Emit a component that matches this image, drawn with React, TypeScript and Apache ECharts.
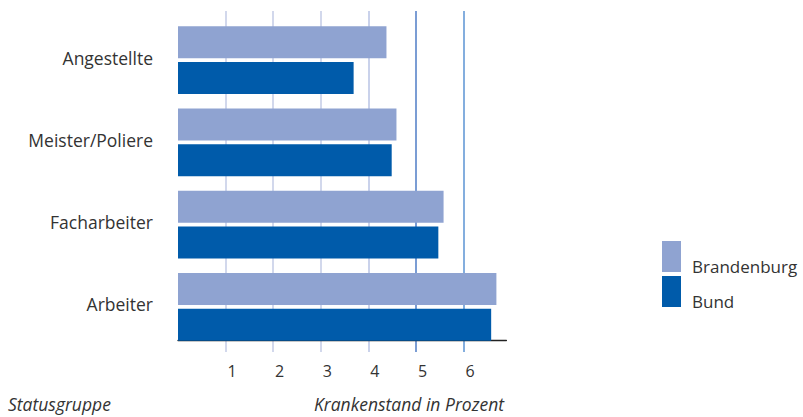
import React, { useEffect, useRef } from "react";
import * as echarts from "echarts";

const categories = ["Angestellte", "Meister/Poliere", "Facharbeiter", "Arbeiter"];
const brandenburg = [4.38, 4.59, 5.58, 6.69];
const bund = [3.69, 4.49, 5.47, 6.58];
const seriesNames = ["Brandenburg", "Bund"];
const xTicks = [0, 1, 2, 3, 4, 5, 6];
const xAxisTitle = "Krankenstand in Prozent";
const yAxisTitle = "Statusgruppe";

const FONT = "'Open Sans', sans-serif";
const TEXT = "#333333";
const C_BRB = "#8fa3d1";
const C_BUND = "#005baa";

export default function App() {
  const ref = useRef<HTMLDivElement>(null);
  useEffect(() => {
    document.body.style.margin = "0";
    const chart = echarts.init(ref.current!, null, { renderer: "svg" });
    const left = 178;
    const xMax = 6.9;
    const right = 803 - 506.4;
    chart.setOption({
      animation: false,
      textStyle: { fontFamily: FONT, color: TEXT },
      legend: {
        orient: "vertical",
        left: 657,
        top: 231.5,
        itemWidth: 19,
        itemHeight: 31,
        itemGap: -5,
        icon: "rect",
        formatter: (name: string) => "\n" + name,
        textStyle: { fontFamily: FONT, fontSize: 17, color: TEXT, lineHeight: 20, padding: [0, 0, 0, 6] },
        data: seriesNames,
      },
      grid: [
        { left, right, top: 19, height: 329 },
        { left, right, top: 11, height: 341 },
      ],
      xAxis: [
        { gridIndex: 0, type: "value", min: 0, max: xMax, show: false },
        {
          gridIndex: 1,
          type: "value",
          min: 0,
          max: xMax,
          interval: 1,
          offset: -12,
          axisLine: { show: true, lineStyle: { color: "#222222", width: 1.3 } },
          axisTick: { show: false },
          axisLabel: {
            fontFamily: FONT,
            fontSize: 16,
            color: TEXT,
            margin: 23,
            padding: [0, 0, 0, 13],
            formatter: (v: number) => (xTicks.includes(v) && v !== 0 ? String(v) : ""),
          },
          splitLine: {
            show: true,
            lineStyle: {
              width: 1.5,
              color: ["rgba(0,0,0,0)", "#c3cbe6", "#c3cbe6", "#c3cbe6", "#b9c3e4", "#4f7cc6", "#5b93d3"],
            },
          },
        },
      ],
      yAxis: [
        {
          gridIndex: 0,
          type: "category",
          data: categories,
          inverse: true,
          axisLine: { show: false },
          axisTick: { show: false },
          axisLabel: {
            color: TEXT,
            margin: 25,
            formatter: (v: string) => "{c|" + v + "}",
            rich: { c: { fontFamily: FONT, fontSize: 17.5, color: TEXT, padding: [0, 0, 5, 0] } },
          },
        },
        { gridIndex: 1, type: "value", show: false, min: 0, max: 1 },
      ],
      series: [
        {
          name: seriesNames[0],
          type: "bar",
          xAxisIndex: 0,
          yAxisIndex: 0,
          data: brandenburg,
          barWidth: 32,
          barGap: "11%",
          itemStyle: { color: C_BRB },
          z: 3,
        },
        {
          name: seriesNames[1],
          type: "bar",
          xAxisIndex: 0,
          yAxisIndex: 0,
          data: bund,
          barWidth: 32,
          barGap: "11%",
          itemStyle: { color: C_BUND },
          z: 3,
        },
      ],
      graphic: [
        {
          type: "text",
          left: 8,
          top: 395,
          style: { text: yAxisTitle, font: `italic 17.5px ${FONT}`, fill: TEXT },
        },
        {
          type: "text",
          right: 803 - 504,
          top: 395,
          style: { text: xAxisTitle, font: `italic 17.5px ${FONT}`, fill: TEXT },
        },
      ],
    });
    return () => chart.dispose();
  }, []);
  return <div ref={ref} style={{ width: 803, height: 417 }} />;
}
